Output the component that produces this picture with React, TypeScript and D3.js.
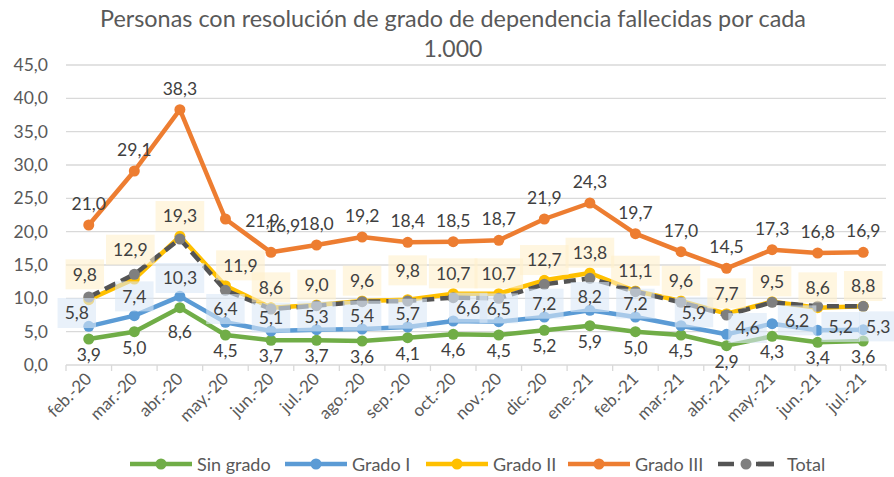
import React from "react";
import * as d3 from "d3";

const categories = ["feb.-20","mar.-20","abr.-20","may.-20","jun.-20","jul.-20","ago.-20","sep.-20","oct.-20","nov.-20","dic.-20","ene.-21","feb.-21","mar.-21","abr.-21","may.-21","jun.-21","jul.-21"];
const sinGrado = [3.9,5.0,8.6,4.5,3.7,3.7,3.6,4.1,4.6,4.5,5.2,5.9,5.0,4.5,2.9,4.3,3.4,3.6];
const gradoI = [5.8,7.4,10.3,6.4,5.1,5.3,5.4,5.7,6.6,6.5,7.2,8.2,7.2,5.9,4.6,6.2,5.2,5.3];
const gradoII = [9.8,12.9,19.3,11.9,8.6,9.0,9.6,9.8,10.7,10.7,12.7,13.8,11.1,9.6,7.7,9.5,8.6,8.8];
const gradoIII = [21.0,29.1,38.3,21.9,16.9,18.0,19.2,18.4,18.5,18.7,21.9,24.3,19.7,17.0,14.5,17.3,16.8,16.9];
const total = [10.2,13.6,18.9,11.2,8.4,8.9,9.5,9.6,10.1,10.0,12.1,13.0,11.0,9.4,7.5,9.4,8.8,8.8];
const yTicks = [0,5,10,15,20,25,30,35,40,45];
const seriesNames = ["Sin grado","Grado I","Grado II","Grado III","Total"];
const title1 = "Personas con resolución de grado de dependencia fallecidas por cada";
const title2 = "1.000";

const W = 894, H = 477;
const FONT = "Lato, 'Open Sans', sans-serif";

const fmt = (v: number) => v.toFixed(1).replace(".", ",");

type S = { key: string; name: string; values: number[]; color: string; marker: string; dash?: string; labelDy?: number; box?: string };

const series: S[] = [
  { key: "sin", name: seriesNames[0], values: sinGrado, color: "#70ad47", marker: "#70ad47", labelDy: 22 },
  { key: "g1", name: seriesNames[1], values: gradoI, color: "#5b9bd5", marker: "#5b9bd5", labelDy: -7, box: "#dae8f6" },
  { key: "g2", name: seriesNames[2], values: gradoII, color: "#ffc000", marker: "#ffc000", labelDy: -14, box: "#fff0cc" },
  { key: "g3", name: seriesNames[3], values: gradoIII, color: "#ed7d31", marker: "#ed7d31", labelDy: -15 },
  { key: "tot", name: seriesNames[4], values: total, color: "#545454", marker: "#7f7f7f", dash: "12,6" },
];

const labelNudge: Record<string, [number, number]> = {
  "sin-2": [0, 8],
  "g1-0": [-12, 0], "g1-1": [0, -6], "g1-2": [0, -5], "g1-8": [15, 0], "g1-13": [13, 0],
  "g1-14": [21, 7], "g1-15": [25, 10], "g1-16": [23, 10], "g1-17": [15, 10],
  "g2-0": [-4, -5], "g2-1": [-4, -9], "g2-3": [15, 0], "g2-7": [0, -9],
  "g3-3": [37, 23], "g3-4": [12, -5],
};

const legendX = [130, 285, 426, 568, 718];

export default function App() {
  const x = d3.scaleBand<string>().domain(categories).range([66, 886]).padding(0);
  const bw = x.bandwidth();
  const cx = (i: number) => (x(categories[i]) as number) + bw / 2;
  const y = d3.scaleLinear().domain([0, 45]).range([365, 65]);
  const line = d3.line<number>().x((_, i) => cx(i)).y((d) => y(d));
  const LFS = 17.5;
  const textW = (s: string) => {
    let w = 0;
    for (const c of s) w += c === "," ? 0.24 : 0.58;
    return w * LFS;
  };

  return (
    <svg width={W} height={H} style={{ position: "absolute", left: 0, top: 0, background: "#fff" }} fontFamily={FONT}>
      <rect width={W} height={H} fill="#fff" />
      <text x={453} y={27} textAnchor="middle" fontSize={23} fill="#595959" textLength={706} lengthAdjust="spacingAndGlyphs">{title1}</text>
      <text x={453} y={57} textAnchor="middle" fontSize={23} fill="#595959">{title2}</text>
      {yTicks.map((t) => (
        <g key={t}>
          <line x1={66} x2={886} y1={y(t)} y2={y(t)} stroke="#d9d9d9" strokeWidth={1.3} />
          <text x={48} y={y(t) + 6} textAnchor="end" fontSize={LFS} fill="#595959">{fmt(t)}</text>
        </g>
      ))}
      {d3.range(categories.length + 1).map((i) => (
        <line key={i} x1={66 + i * bw} x2={66 + i * bw} y1={365} y2={371} stroke="#d9d9d9" strokeWidth={1.3} />
      ))}
      {categories.map((c, i) => (
        <text key={c} transform={`translate(${cx(i) + 4},${380}) rotate(-45)`} textAnchor="end" fontSize={17} fill="#595959">{c}</text>
      ))}
      {series.map((s) => (
        <g key={s.key}>
          <path d={line(s.values) as string} fill="none" stroke={s.color} strokeWidth={4.5} strokeDasharray={s.dash} strokeLinejoin="round" strokeLinecap={s.dash ? "butt" : "round"} />
          {s.values.map((v, i) => (
            <circle key={i} cx={cx(i)} cy={y(v)} r={5.5} fill={s.marker} />
          ))}
        </g>
      ))}
      {series.filter((s) => s.labelDy !== undefined).map((s) => (
        <g key={s.key + "-lab"}>
          {s.values.map((v, i) => {
            const n = labelNudge[`${s.key}-${i}`] || [0, 0];
            const tx = cx(i) + n[0];
            const ty = y(v) + (s.labelDy as number) + n[1];
            const t = fmt(v);
            const tw = textW(t);
            return (
              <g key={i}>
                {s.box && (
                  <rect x={tx - tw / 2 - 7} y={ty - 6.3 - 15} width={tw + 14} height={30} fill={s.box} opacity={0.6} />
                )}
                <text x={tx} y={ty} textAnchor="middle" fontSize={LFS} fill="#404040">{t}</text>
              </g>
            );
          })}
        </g>
      ))}
      {series.map((s, k) => (
        <g key={s.key + "-leg"} transform={`translate(${legendX[k]},464)`}>
          <line x1={0} x2={s.dash ? 56 : 62} y1={0} y2={0} stroke={s.color} strokeWidth={4.5} strokeDasharray={s.dash ? "16,24" : undefined} strokeDashoffset={0} />
          {s.dash && <line x1={38} x2={56} y1={0} y2={0} stroke={s.color} strokeWidth={4.5} />}
          <circle cx={s.dash ? 28 : 31} cy={0} r={5.5} fill={s.marker} />
          <text x={s.dash ? 69 : 67} y={6.5} fontSize={18} fill="#595959">{s.name}</text>
        </g>
      ))}
    </svg>
  );
}
